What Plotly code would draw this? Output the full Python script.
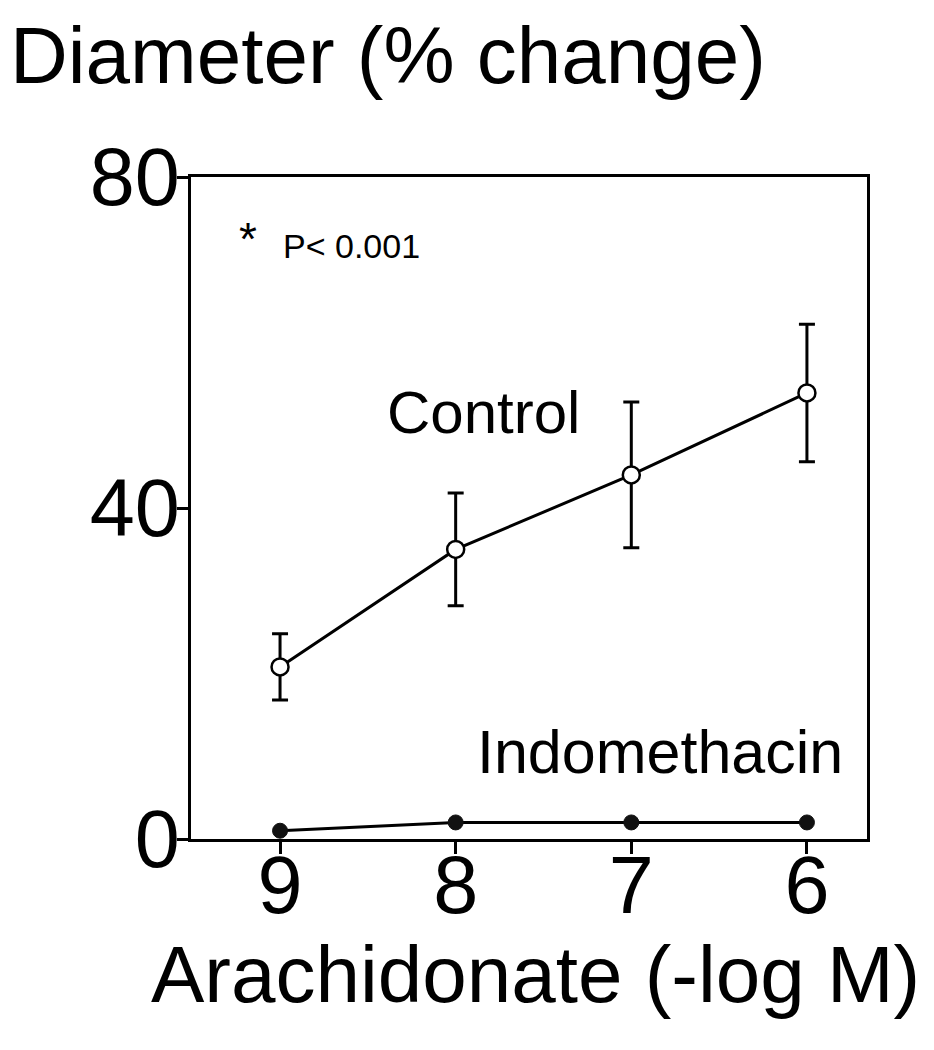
import plotly.graph_objects as go

# Data
doses = [9, 8, 7, 6]
dose_labels = ["9", "8", "7", "6"]
control_mean = [20.8, 35.0, 44.0, 53.9]
control_err = [4.0, 6.8, 8.8, 8.3]
indo_mean = [1.0, 2.0, 2.0, 2.0]
y_ticks = [0, 40, 80]

FONT = "Liberation Sans, Arial, Helvetica, sans-serif"
OFF = 8  # default body margin of the html page

W, H = 934 - OFF, 1050 - OFF

fig = go.Figure()

fig.add_trace(go.Scatter(
    x=doses, y=indo_mean, mode="lines+markers",
    line=dict(color="black", width=3),
    marker=dict(symbol="circle", size=15, color="#111111",
                line=dict(color="#111111", width=1)),
    showlegend=False,
))

fig.add_trace(go.Scatter(
    x=doses, y=control_mean, mode="lines+markers",
    line=dict(color="black", width=3),
    marker=dict(symbol="circle", size=17, color="white",
                line=dict(color="black", width=2.5)),
    error_y=dict(type="data", array=control_err, visible=True,
                 color="black", thickness=3, width=8),
    showlegend=False,
))

fig.update_layout(
    width=W, height=H,
    margin=dict(l=191 - OFF, r=67, t=177 - OFF, b=211),
    paper_bgcolor="white", plot_bgcolor="white",
    font=dict(family=FONT, color="black"),
    title=dict(text="Diameter (% change)", x=(10 - OFF) / W, xanchor="left",
               xref="container", yref="container", y=1 - (27 - OFF) / H,
               yanchor="top", font=dict(size=80, family=FONT, color="black")),
)

fig.update_xaxes(
    range=[9.507, 5.658], tickvals=doses, ticktext=dose_labels,
    showline=True, linecolor="black", linewidth=3, mirror=True,
    ticks="outside", ticklen=12, tickwidth=2.5, tickcolor="black",
    tickfont=dict(size=81, family=FONT), showgrid=False, zeroline=False,
    ticklabelstandoff=-38,
)
fig.update_yaxes(
    range=[0, 80], tickvals=y_ticks,
    showline=True, linecolor="black", linewidth=3, mirror=True,
    ticks="outside", ticklen=11, tickwidth=2.5, tickcolor="black",
    tickfont=dict(size=81, family=FONT), showgrid=False, zeroline=False,
    ticklabelstandoff=-19,
)

def px_x(px):
    return (px - 191) / 676

def px_y(py):
    return (839 - py) / 662

fig.add_annotation(text="Arachidonate (-log M)", xref="paper", yref="paper",
                   x=px_x(535), y=px_y(928), xanchor="center", yanchor="top",
                   showarrow=False, font=dict(size=80, family=FONT))
fig.add_annotation(text="Control", xref="paper", yref="paper",
                   x=px_x(483), y=px_y(412), xanchor="center", yanchor="middle",
                   showarrow=False, font=dict(size=60, family=FONT))
fig.add_annotation(text="Indomethacin", xref="paper", yref="paper",
                   x=px_x(660), y=px_y(752), xanchor="center", yanchor="middle",
                   showarrow=False, font=dict(size=61, family=FONT))
fig.add_annotation(text="*", xref="paper", yref="paper",
                   x=px_x(248), y=px_y(239), xanchor="center", yanchor="middle",
                   showarrow=False, font=dict(size=46, family=FONT))
fig.add_annotation(text="P< 0.001", xref="paper", yref="paper",
                   x=px_x(281), y=px_y(246), xanchor="left", yanchor="middle",
                   showarrow=False, font=dict(size=34, family=FONT))

fig.write_html("out.html")
